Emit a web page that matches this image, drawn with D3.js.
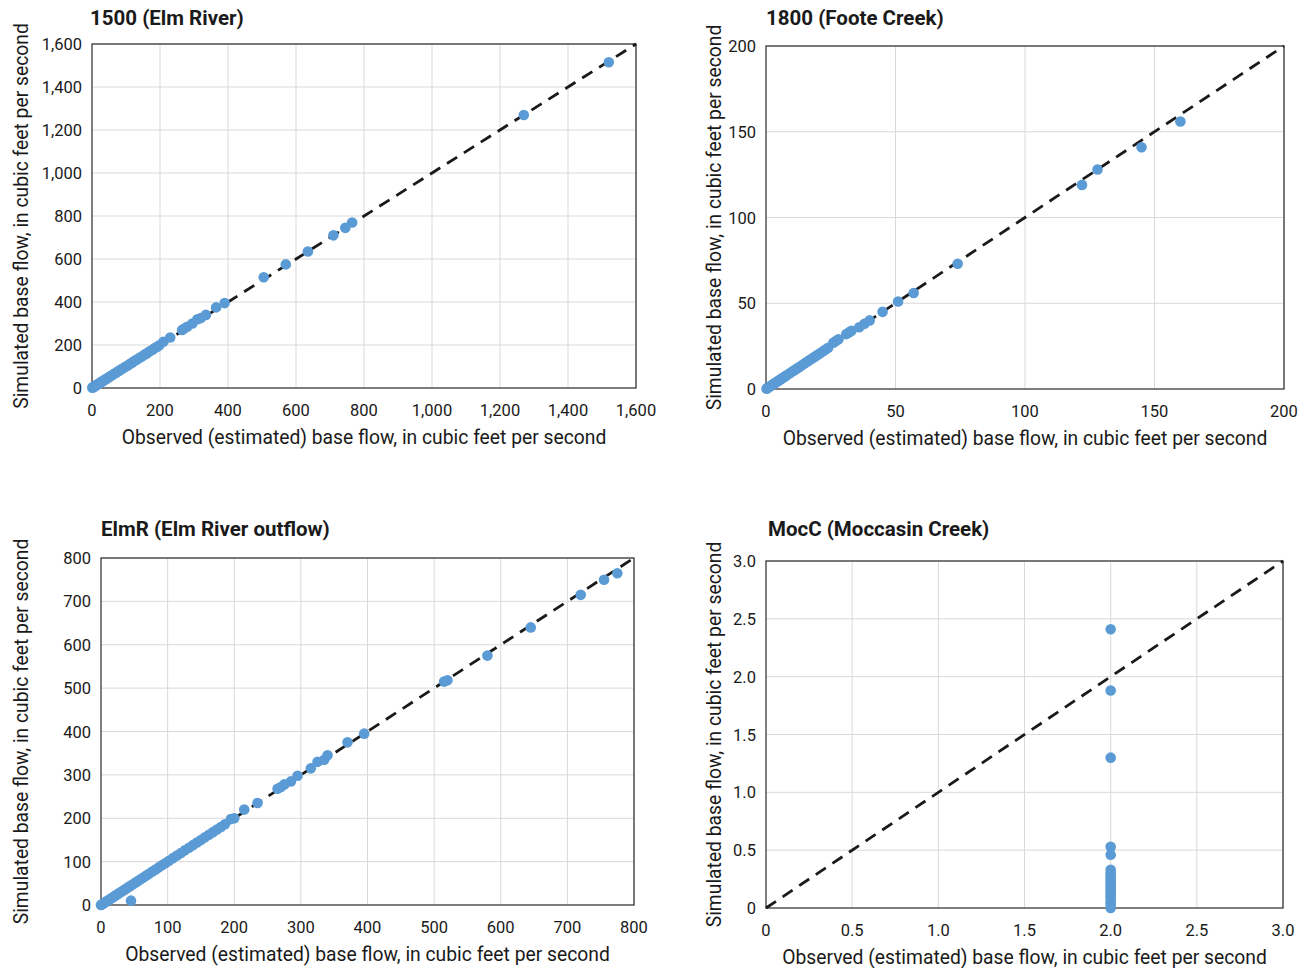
<!DOCTYPE html>
<html>
<head>
<meta charset="utf-8">
<script src="https://cdn.jsdelivr.net/npm/d3@7"></script>
<style>
  body { margin: 0; background: #fff; }
  svg text { font-family: "Liberation Sans Narrow", "Arial Narrow", "Roboto", sans-serif; fill: #1a1a1a; }
</style>
</head>
<body>
<div id="chart"></div>
<script>
// Panel titles
const titles = ["1500 (Elm River)", "1800 (Foote Creek)", "ElmR (Elm River outflow)", "MocC (Moccasin Creek)"];

// Axis tick values
const ticks1500 = [0, 200, 400, 600, 800, 1000, 1200, 1400, 1600];
const ticks1800 = [0, 50, 100, 150, 200];
const ticksElmR = [0, 100, 200, 300, 400, 500, 600, 700, 800];
const ticksMocC = [0, 0.5, 1.0, 1.5, 2.0, 2.5, 3.0];

// 1500 (Elm River) observed / simulated
const obs1500 = [1, 2, 4, 6, 8, 10, 13, 16, 19, 22, 26, 30, 34, 38, 42, 46, 50, 55, 60, 65, 70, 75, 80, 86, 92, 98, 105, 112, 118, 125, 132, 140, 148, 155, 162, 170, 178, 185, 192, 198, 210, 230, 265, 270, 280, 295, 310, 320, 335, 365, 390, 505, 570, 635, 710, 745, 765, 1270, 1520];
const sim1500 = [1, 3, 4, 6, 8, 11, 13, 16, 19, 23, 26, 31, 34, 39, 42, 47, 50, 56, 60, 66, 70, 76, 80, 87, 92, 99, 105, 113, 118, 126, 132, 141, 148, 156, 162, 171, 178, 186, 192, 199, 215, 235, 270, 275, 285, 300, 320, 325, 340, 375, 395, 515, 575, 635, 710, 745, 770, 1270, 1515];

// 1800 (Foote Creek)
const obs1800 = [0.2, 0.5, 1, 1.5, 2, 2.5, 3, 3.5, 4, 4.5, 5, 5.5, 6, 6.5, 7, 7.5, 8, 9, 10, 11, 12, 13, 14, 15, 16, 17, 18, 19, 20, 21, 22, 23, 24, 26, 27, 28, 31, 32, 33, 36, 38, 40, 45, 51, 57, 74, 122, 128, 145, 160];
const sim1800 = [0.2, 0.5, 1, 1.5, 2, 2.5, 3, 3.5, 4, 4.5, 5, 5.5, 6, 6.5, 7, 7.5, 8, 9, 10, 11, 12, 13, 14, 15, 16, 17, 18, 19, 20, 21, 22, 23, 24, 27, 28, 29, 32, 33, 34, 36, 38, 40, 45, 51, 56, 73, 119, 128, 141, 156];

// ElmR (Elm River outflow)
const obsElmR = [0, 1, 3, 5, 7, 9, 12, 15, 18, 21, 24, 27, 30, 33, 36, 40, 44, 48, 52, 56, 60, 64, 68, 72, 77, 82, 87, 92, 97, 102, 108, 114, 120, 126, 132, 138, 144, 150, 156, 162, 168, 174, 180, 186, 195, 200, 215, 235, 265, 270, 275, 285, 295, 315, 325, 335, 340, 370, 395, 515, 520, 580, 645, 720, 755, 775, 45];
const simElmR = [0, 1, 3, 5, 7, 9, 12, 15, 18, 21, 24, 27, 30, 33, 36, 40, 44, 48, 52, 56, 60, 64, 68, 72, 77, 82, 87, 92, 97, 102, 108, 114, 120, 126, 132, 138, 144, 150, 156, 162, 168, 174, 180, 186, 198, 200, 220, 235, 268, 272, 278, 285, 298, 315, 330, 335, 345, 375, 395, 515, 518, 575, 640, 715, 750, 765, 10];

// MocC (Moccasin Creek)
const obsMocC = [2.0, 2.0, 2.0, 2.0, 2.0, 2.0, 2.0, 2.0, 2.0, 2.0, 2.0, 2.0, 2.0, 2.0, 2.0, 2.0, 2.0, 2.0, 2.0, 2.0, 2.0];
const simMocC = [2.41, 1.88, 1.30, 0.53, 0.46, 0.33, 0.30, 0.28, 0.26, 0.24, 0.22, 0.20, 0.18, 0.16, 0.14, 0.12, 0.10, 0.08, 0.05, 0.03, 0.0];

const W = 1307, H = 968;
const svg = d3.select("#chart").append("svg").attr("width", W).attr("height", H);

const panels = [
  {title: titles[0], obs: obs1500, sim: sim1500, ticks: ticks1500, fmt: d3.format(","), box: {l: 92, r: 636, t: 44, b: 388}, titleX: 90, titleY: 25, yLabX: 21},
  {title: titles[1], obs: obs1800, sim: sim1800, ticks: ticks1800, fmt: d3.format(","), box: {l: 766, r: 1284, t: 46, b: 389}, titleX: 766, titleY: 25, yLabX: 714},
  {title: titles[2], obs: obsElmR, sim: simElmR, ticks: ticksElmR, fmt: d3.format(","), box: {l: 101, r: 634, t: 558, b: 905}, titleX: 101, titleY: 536, yLabX: 21},
  {title: titles[3], obs: obsMocC, sim: simMocC, ticks: ticksMocC, fmt: d => d === 0 ? "0" : d3.format(".1f")(d), box: {l: 766, r: 1283, t: 561, b: 908}, titleX: 768, titleY: 536, yLabX: 714}
];

function drawPanel(p) {
  const b = p.box;
  const maxV = p.ticks[p.ticks.length - 1];
  const x = d3.scaleLinear().domain([0, maxV]).range([b.l, b.r]);
  const y = d3.scaleLinear().domain([0, maxV]).range([b.b, b.t]);
  const g = svg.append("g");

  // gridlines
  g.selectAll(".gx").data(p.ticks.slice(1)).enter().append("line")
    .attr("x1", d => x(d)).attr("x2", d => x(d))
    .attr("y1", b.t).attr("y2", b.b)
    .attr("stroke", "#d9d9d9").attr("stroke-width", 1);
  g.selectAll(".gy").data(p.ticks.slice(1)).enter().append("line")
    .attr("y1", d => y(d)).attr("y2", d => y(d))
    .attr("x1", b.l).attr("x2", b.r)
    .attr("stroke", "#d9d9d9").attr("stroke-width", 1);

  // frame
  g.append("rect")
    .attr("x", b.l).attr("y", b.t)
    .attr("width", b.r - b.l).attr("height", b.b - b.t)
    .attr("fill", "none").attr("stroke", "#3a3a3a").attr("stroke-width", 1.3);

  // tick labels
  g.selectAll(".tx").data(p.ticks).enter().append("text")
    .attr("x", d => x(d)).attr("y", b.b + 28)
    .attr("text-anchor", "middle").attr("font-size", 16.5)
    .text(p.fmt);
  g.selectAll(".ty").data(p.ticks).enter().append("text")
    .attr("x", b.l - 10).attr("y", d => y(d) + 6)
    .attr("text-anchor", "end").attr("font-size", 16.5)
    .text(p.fmt);

  // 1:1 line
  g.append("line")
    .attr("x1", x(0)).attr("y1", y(0))
    .attr("x2", x(maxV)).attr("y2", y(maxV))
    .attr("stroke", "#1a1a1a").attr("stroke-width", 2.8)
    .attr("stroke-dasharray", "12,8");

  // points
  const pts = p.obs.map((o, i) => ({o: o, s: p.sim[i]}));
  g.selectAll("circle").data(pts).enter().append("circle")
    .attr("cx", d => x(d.o)).attr("cy", d => y(d.s))
    .attr("r", 5.3).attr("fill", "#5b9bd5");

  // titles and axis labels
  g.append("text").attr("x", p.titleX).attr("y", p.titleY)
    .attr("font-size", 20.5).attr("font-weight", "bold").text(p.title);
  g.append("text").attr("x", (b.l + b.r) / 2).attr("y", b.b + 56)
    .attr("text-anchor", "middle").attr("font-size", 19.3)
    .text("Observed (estimated) base flow, in cubic feet per second");
  g.append("text")
    .attr("transform", `translate(${p.yLabX},${(b.t + b.b) / 2}) rotate(-90)`)
    .attr("text-anchor", "middle").attr("dy", "0.35em").attr("font-size", 19.3)
    .text("Simulated base flow, in cubic feet per second");
}

panels.forEach(drawPanel);
</script>
</body>
</html>
